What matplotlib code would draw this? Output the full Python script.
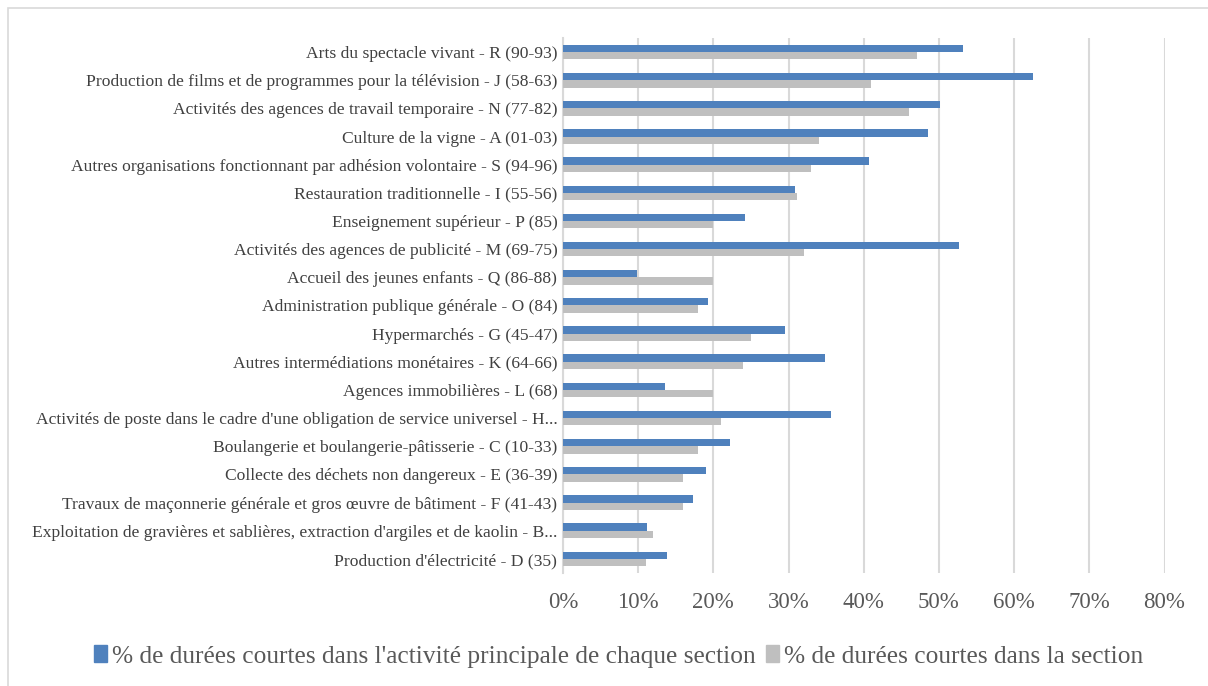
import matplotlib.pyplot as plt
import matplotlib.patches as mpatches
from matplotlib.ticker import PercentFormatter

plt.rcParams['font.family'] = ['Liberation Serif', 'DejaVu Serif']

# categories, top to bottom
categories = [
    "Arts du spectacle vivant - R (90-93)",
    "Production de films et de programmes pour la télévision - J (58-63)",
    "Activités des agences de travail temporaire - N (77-82)",
    "Culture de la vigne - A (01-03)",
    "Autres organisations fonctionnant par adhésion volontaire - S (94-96)",
    "Restauration traditionnelle - I (55-56)",
    "Enseignement supérieur - P (85)",
    "Activités des agences de publicité - M (69-75)",
    "Accueil des jeunes enfants - Q (86-88)",
    "Administration publique générale - O (84)",
    "Hypermarchés - G (45-47)",
    "Autres intermédiations monétaires - K (64-66)",
    "Agences immobilières - L (68)",
    "Activités de poste dans le cadre d'une obligation de service universel - H...",
    "Boulangerie et boulangerie-pâtisserie - C (10-33)",
    "Collecte des déchets non dangereux - E (36-39)",
    "Travaux de maçonnerie générale et gros œuvre de bâtiment - F (41-43)",
    "Exploitation de gravières et sablières, extraction d'argiles et de kaolin - B...",
    "Production d'électricité - D (35)",
]
# % de durées courtes dans l'activité principale
activite_principale = [53.2, 62.5, 50.1, 48.6, 40.7, 30.9, 24.2, 52.7, 9.8, 19.3,
                       29.5, 34.8, 13.6, 35.7, 22.2, 19.0, 17.3, 11.2, 13.9]
# % de durées courtes dans la section
section = [47.1, 41.0, 46.0, 34.0, 33.0, 31.1, 20.0, 32.0, 20.0, 18.0,
           25.0, 24.0, 20.0, 21.0, 18.0, 16.0, 16.0, 12.0, 11.1]
xticks = [0, 10, 20, 30, 40, 50, 60, 70, 80]

blue = "#4F81BD"
gray = "#BFBFBF"

fig = plt.figure(figsize=(12.08, 6.86), dpi=100)
ax = fig.add_axes([0.466, 0.1647, 0.498, 0.78])

y = list(range(len(categories)))
h = 0.26
ax.barh([i - h / 2 for i in y], activite_principale, height=h, color=blue, zorder=3)
ax.barh([i + h / 2 for i in y], section, height=h, color=gray, zorder=3)

ax.set_ylim(len(categories) - 0.5, -0.5)
ax.set_xlim(0, 80)
ax.set_yticks(y)
ax.set_yticklabels(categories, fontsize=12.6, color="#404040")
ax.set_xticks(xticks)
ax.xaxis.set_major_formatter(PercentFormatter(decimals=0))
ax.tick_params(axis='x', labelsize=16.5, colors="#595959", length=0, pad=14)
ax.tick_params(axis='y', length=0, pad=4)
ax.grid(axis='x', color="#D9D9D9", linewidth=1.5, zorder=0)
for s in ['top', 'right', 'bottom']:
    ax.spines[s].set_visible(False)
ax.spines['left'].set_color("#D9D9D9")
ax.spines['left'].set_linewidth(1.5)

# outer chart border
fig.patches.append(mpatches.Rectangle((8 / 1208, -0.01), 1.1, 1 - 8 / 686 + 0.01,
                                      transform=fig.transFigure, fill=False,
                                      edgecolor="#D9D9D9", linewidth=1.2))

handles = [mpatches.Patch(color=blue), mpatches.Patch(color=gray)]
labels = ["% de durées courtes dans l'activité principale de chaque section",
          "% de durées courtes dans la section"]
fig.legend(handles, labels, loc='center', bbox_to_anchor=(0.512, 0.043), ncol=2,
           frameon=False, fontsize=18.3, handlelength=0.5, handleheight=0.6,
           handletextpad=0.2, columnspacing=0.4, labelcolor="#595959")

fig.savefig("out.png", dpi=100)
